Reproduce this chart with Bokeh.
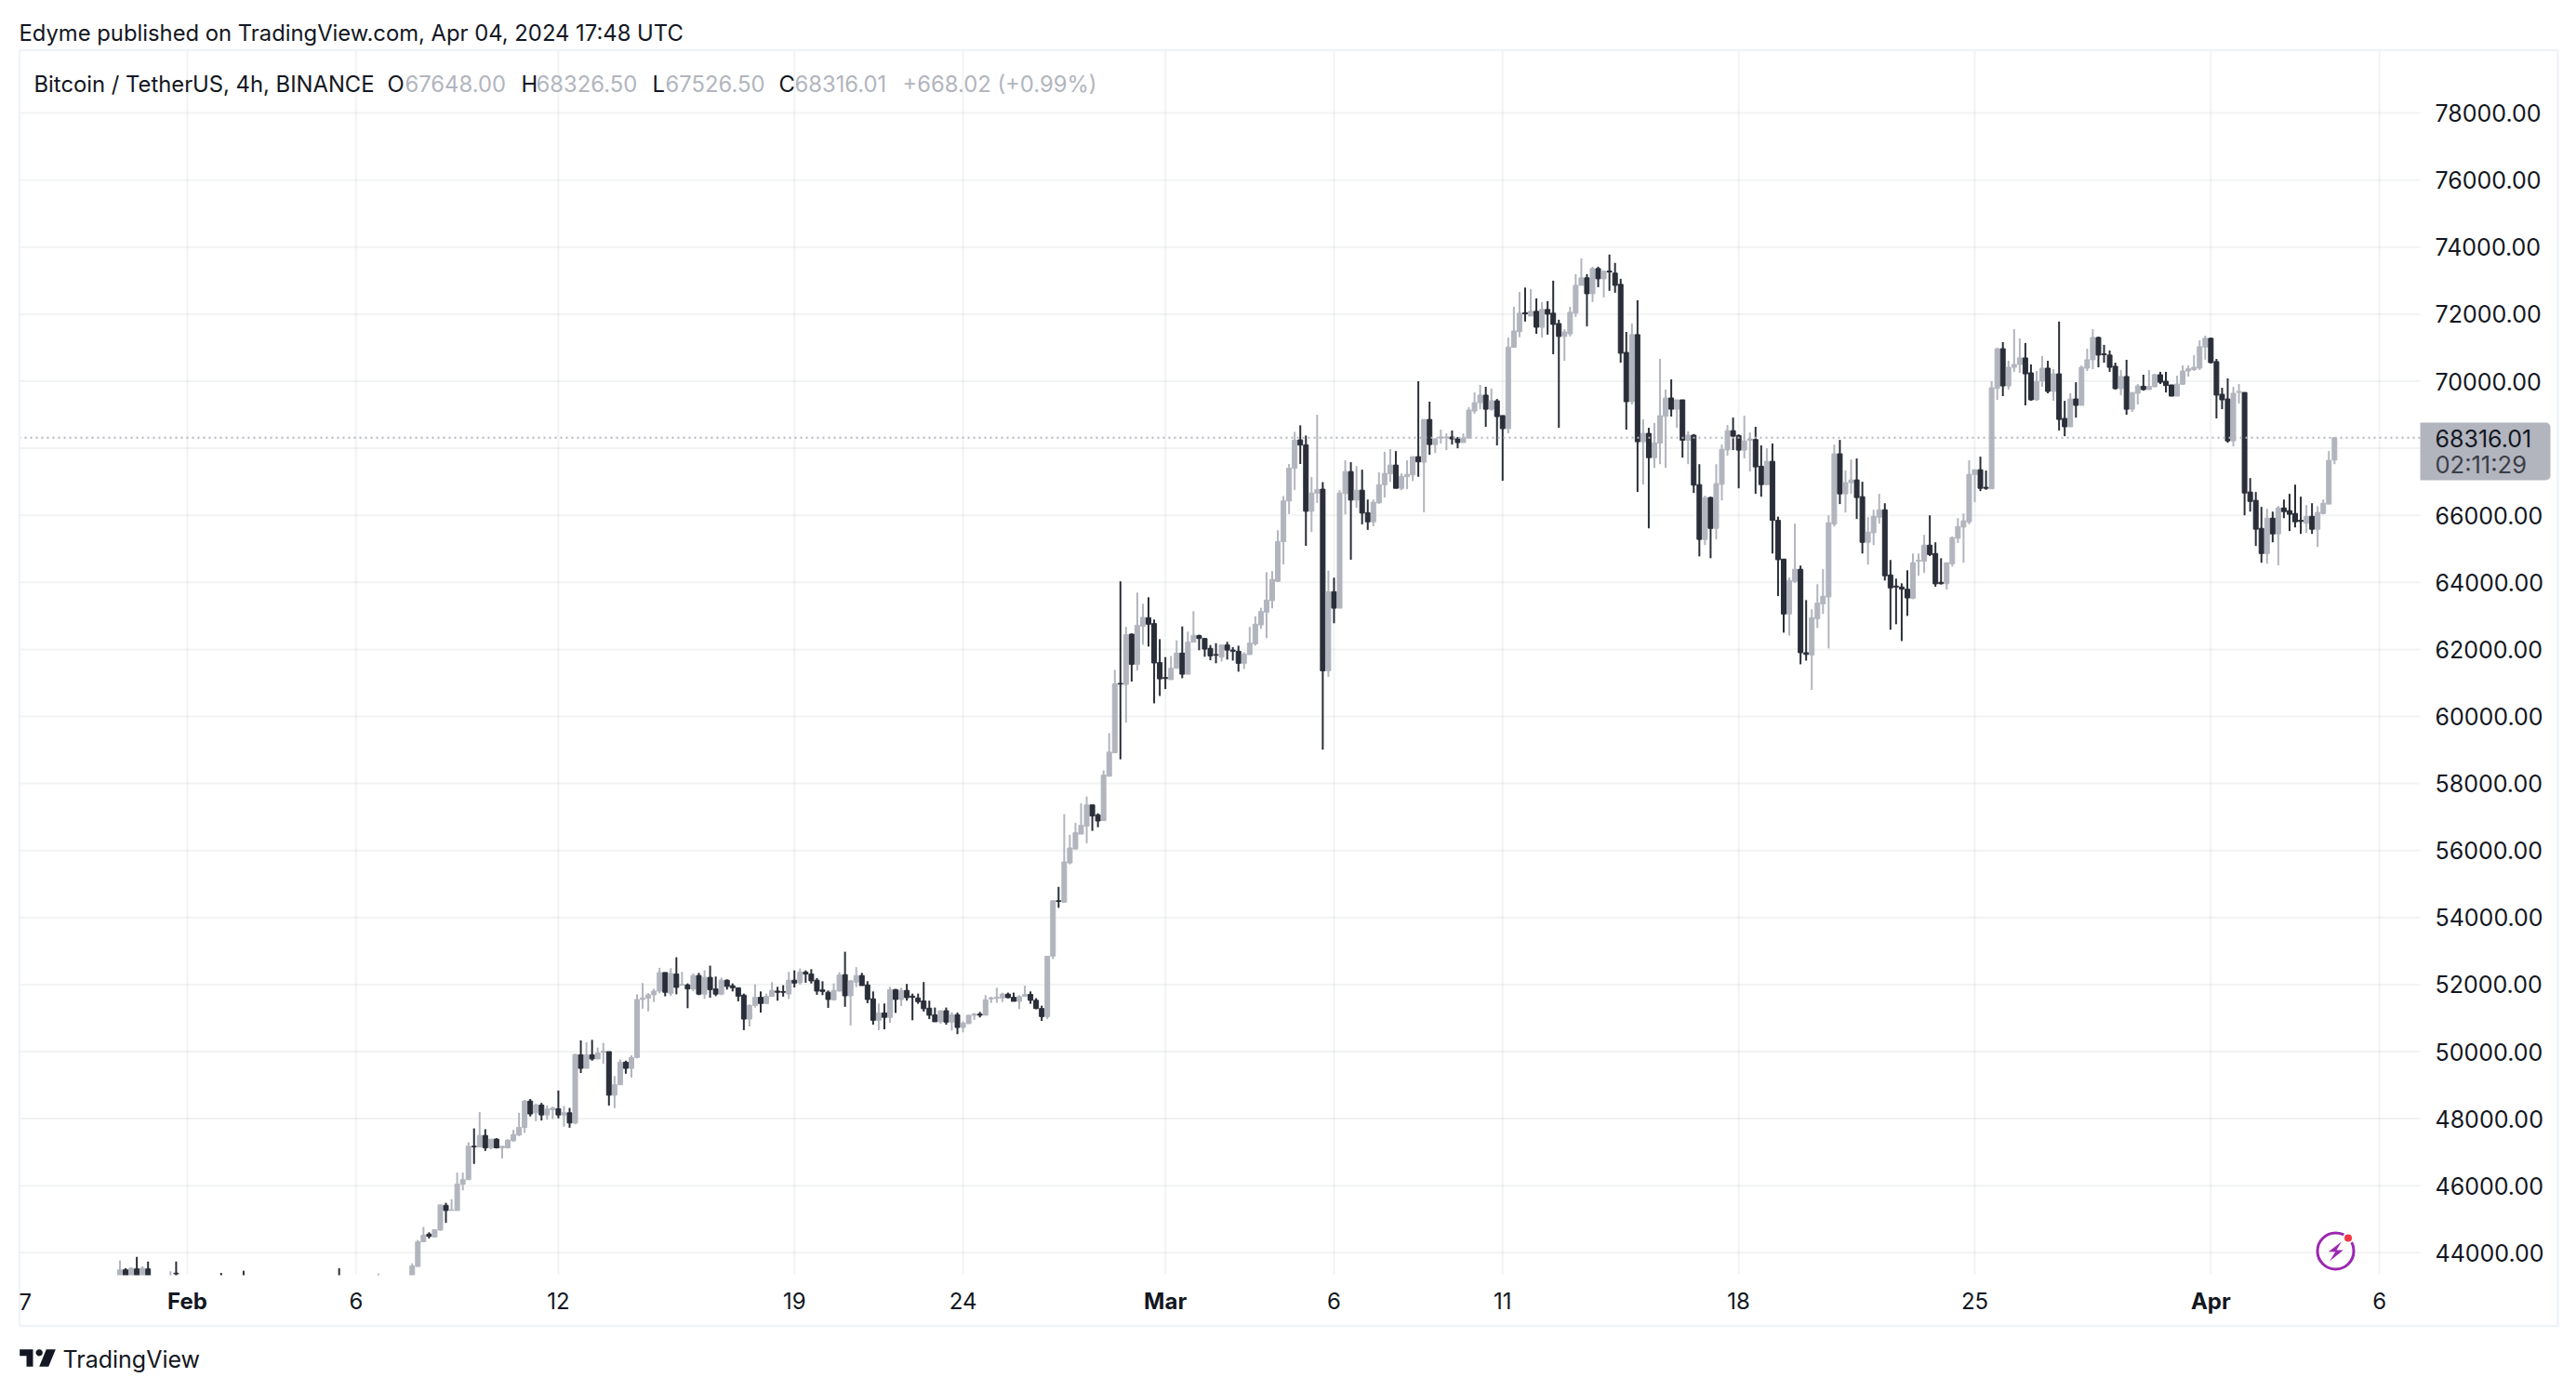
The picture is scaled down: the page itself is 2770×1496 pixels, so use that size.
from bokeh.plotting import figure
from bokeh.models import ColumnDataSource, FixedTicker, Label, BoxAnnotation, PolyAnnotation, NumeralTickFormatter
from bokeh.embed import file_html
from bokeh.resources import INLINE
import numpy as np

# ---------- data: BTC/USDT 4h bars, bar number 0 = Feb 1 00:00 ----------
early_bars = [-12, -11, -10, -9, -8, -7, -3, -2, 6, 10, 27, 34]
early_opens = [43200, 43490, 43300, 43518, 43250, 43518, 43100, 43390, 43300, 43300, 43300, 43200]
early_highs = [43770, 43537, 43560, 43880, 43590, 43740, 43444, 43740, 43400, 43463, 43537, 43380]
early_lows = [43100, 43200, 43200, 43100, 43200, 43150, 43000, 43000, 43100, 43100, 43100, 43100]
early_closes = [43490, 43300, 43537, 43250, 43537, 43200, 43300, 43370, 43200, 43200, 43200, 43300]

opens = [
 43100,43590,44330,44555,44470,44675,45415,45260,45260,46045,
 46180,47175,47155,47500,47130,47390,47130,47130,47340,47510,
 47740,48525,48175,48405,48110,48270,48295,48110,48175,47870,
 49905,49500,49905,49780,49980,50000,48700,49010,49685,49500,
 49825,51555,51600,51695,51805,52360,51740,52315,51990,51990,
 51870,52270,51715,52215,51870,51715,52130,51965,51905,51685,
 50970,51380,51620,51435,51650,51805,51790,51720,52130,52055,
 52370,52315,52130,51840,51770,51545,51805,52295,51665,52075,
 52270,51990,51575,50935,51155,51020,51850,51555,51825,51655,
 51600,51510,51295,51095,50890,51220,50880,51100,50720,50835,
 51085,51120,51085,51575,51590,51600,51715,51620,51500,51650,
 51705,51530,51285,51045,52850,54500,54455,55630,56045,56490,
 56730,57360,57065,56890,58215,58915,60985,60955,62455,61555,
 62695,62945,62770,61605,61160,61095,61435,61890,61260,62215,
 62410,62325,62030,61845,61770,62130,61980,61945,61585,61845,
 62165,62730,63110,63455,64030,65215,66425,67400,68250,68100,
 66120,66660,66780,61360,63720,63230,66650,67305,66455,66750,
 66075,65805,66370,66910,67240,67500,66805,67155,67205,67750,
 67585,68860,68110,68305,68315,68335,68280,68170,68305,69110,
 69360,69585,69165,69415,68975,68585,71010,71480,72045,71945,
 72085,71610,72140,72030,71720,71335,71415,72030,72860,73085,
 72610,73360,73055,73285,73225,72890,70860,69390,71390,68195,
 68445,67720,68150,68955,69500,69165,69445,68240,68390,66915,
 65280,66530,65610,66925,67950,68525,68380,67945,68240,68260,
 67465,66915,67610,65850,64695,63055,64030,64390,61900,61835,
 62915,63360,63565,65740,67835,66640,66975,67055,66555,65195,
 65480,65945,66165,64220,63890,63860,63795,63520,64630,64630,
 65110,64860,64000,63960,64555,65315,65650,65805,67220,67360,
 66835,66790,69785,70970,69860,70415,70500,70695,70250,69445,
 70000,70390,69695,70220,68890,68640,69470,69280,70390,70640,
 71305,70815,70780,70445,69780,70140,69165,69640,69850,69750,
 69835,70195,70000,69890,69555,69910,70305,70350,70390,71020,
 71280,70585,69610,69470,68220,69665,69665,66695,66445,65610,
 64860,65915,65445,66220,66140,66055,65850,65760,65970,65585,
 66055,66335,67648]
highs = [
 43685,44380,44770,44610,44700,45440,45490,45600,46390,46390,
 47295,47710,48195,47685,47390,47415,47175,47385,47665,48175,
 48560,48585,48450,48470,48390,48360,48840,48380,48320,49935,
 50335,50280,50350,50120,50260,50000,49270,49770,49730,49890,
 51710,52045,51745,51880,52500,52360,52490,52815,52380,52035,
 52335,52350,52425,52565,52240,52210,52155,52035,51905,51730,
 51410,52010,51795,51730,52075,51935,51980,52380,52425,52480,
 52425,52460,52195,52100,51825,52035,52370,52980,52130,52520,
 52350,52100,51795,51435,51435,51935,51870,51905,52020,51730,
 51730,52075,51520,51315,51220,51315,51175,51165,50905,51095,
 51155,51185,51685,51640,51905,51760,51760,51760,51685,51965,
 51795,51595,51370,52845,54520,54915,57085,56470,56825,57410,
 57610,57360,57110,58390,59500,61390,64030,62670,62475,63695,
 63360,63555,62890,62305,61770,61805,62270,62685,62530,63140,
 62440,62325,62130,62185,62130,62225,62065,62110,61915,62670,
 62990,63240,64305,64335,65555,66575,67530,68490,68685,68380,
 67140,69000,66990,64350,64140,66750,67640,67585,67470,67360,
 66470,66470,67280,67890,67975,67915,67250,67640,67750,70000,
 68860,69390,68310,68555,68445,68530,68335,68445,69225,69665,
 69890,69835,69780,69470,68975,71305,72220,72665,72795,72750,
 72470,72360,72390,73000,71835,71555,72220,73195,73665,73195,
 73415,73415,73305,73780,73530,73055,71470,71720,72415,68860,
 68610,68750,70665,69750,70055,69445,69445,68500,68425,67525,
 66585,66555,67525,68110,68695,68915,68415,68970,68470,68640,
 68085,68000,68140,65960,64695,64140,65750,64500,63470,63195,
 63945,64390,66000,68110,68250,67335,67665,67695,67000,65945,
 66165,66640,66360,64665,64110,63970,64360,64860,64860,65415,
 66000,65195,64720,64585,65370,65915,66055,67640,67360,67750,
 67335,70000,71000,71165,70610,71555,71280,71140,70500,70305,
 70750,70610,70360,71780,69415,69640,69970,70470,70970,71555,
 71330,71085,70915,70555,70335,70640,69665,69915,70195,70335,
 70220,70280,70280,69890,70165,70470,70470,70780,71220,71360,
 71305,70665,69805,70085,69835,69915,69665,67110,66695,66250,
 66195,66110,66275,66470,66640,66915,66555,66305,66360,66275,
 66470,67915,68326.5]
lows = [
 43000,43590,44315,44425,44470,44655,44890,45260,45260,45860,
 46180,46650,47155,47035,47085,47110,46815,47110,47310,47480,
 47575,48065,47925,47945,47970,47990,48010,47760,47730,47835,
 49360,49500,49730,49780,49640,48390,48315,49010,49340,49230,
 49800,51280,51200,51480,51740,51650,51665,51710,51965,51295,
 51795,51685,51575,51610,51655,51685,51850,51795,51500,50640,
 50750,51315,51165,51435,51650,51520,51640,51575,51915,52000,
 52055,52030,51695,51685,51305,51525,51795,51335,50780,51925,
 51970,51445,50805,50640,50665,50860,51155,51360,51520,50935,
 51425,51195,50970,50890,50835,50805,50630,50520,50575,50835,
 50945,51020,51085,51455,51455,51480,51590,51545,51270,51640,
 51425,51265,50915,50970,52760,54290,54455,55585,56030,56490,
 56220,56585,56695,56890,58215,58915,58720,59815,61040,61370,
 62140,62085,60390,60610,60815,61095,61435,61140,61260,62215,
 61975,61780,61675,61585,61640,61695,61665,61335,61415,61845,
 62110,62610,62335,63225,64010,64535,66035,66760,67530,65090,
 65500,66370,59010,61175,62780,63230,66030,64675,66225,65730,
 65565,65675,66345,66530,67000,66805,66750,66780,67020,67150,
 66090,67805,67860,68140,67945,68110,68000,68170,68280,69030,
 69165,68640,69120,68085,67030,68445,71000,71315,71780,71945,
 71415,71305,71390,70805,68610,70610,71335,71915,72860,71640,
 72360,72805,72500,72695,72640,70555,68555,69305,66695,66915,
 65610,67415,67525,67415,68945,68610,67720,67525,66665,64775,
 65110,64720,65280,66445,67775,67945,66805,67695,67305,66640,
 66555,66915,64860,63590,62500,62415,63980,61555,61665,60790,
 62640,63055,62030,65665,66335,66085,66640,65890,64860,64530,
 65110,65750,64055,62585,62750,62250,63000,63500,64195,64280,
 64785,63870,63935,63785,64470,65175,64585,65730,66390,66720,
 66760,66790,69445,69555,69750,70280,70250,69280,69415,69415,
 69835,69640,69415,68530,68360,68640,68915,69280,70305,70360,
 70415,70555,70280,69750,69585,69000,69085,69305,69720,69750,
 69820,69915,69665,69555,69555,69890,70140,70305,70335,70640,
 70530,68890,69165,68165,68055,69335,66000,66110,65085,64585,
 64555,65195,64510,65915,65530,65640,65445,65470,65445,65055,
 66030,66335,67526.5]
closes = [
 43610,44330,44520,44490,44685,45425,45260,45280,46045,46180,
 47175,47160,47500,47130,47390,47130,47175,47360,47525,47740,
 48525,48140,48405,48110,48285,48315,48110,48175,47870,49915,
 49500,49905,49780,49960,50010,48700,49010,49685,49500,49825,
 51555,51600,51695,51805,52360,51770,52330,51915,52000,51870,
 52270,51715,52215,51850,51715,52130,51945,51905,51655,50970,
 51380,51620,51435,51650,51825,51770,51770,52130,52045,52370,
 52315,52110,51805,51795,51555,51825,52285,51665,52110,52270,
 51970,51555,50935,51155,51020,51850,51555,51825,51610,51620,
 51490,51280,51085,50890,51220,50880,51100,50720,50850,51085,
 51120,51085,51545,51600,51620,51715,51610,51500,51640,51705,
 51530,51285,51045,52845,54500,54480,55660,56075,56530,56750,
 57360,57030,56880,58250,58935,60970,60965,62435,61555,62715,
 62955,62750,61595,61120,61130,61435,61890,61260,62215,62420,
 62325,62010,61805,61825,62130,61980,61945,61585,61860,62185,
 62750,63130,63470,64085,65215,66435,67405,68240,68095,66120,
 66665,66770,61360,63720,63230,66665,67305,66455,66750,66065,
 65805,66390,66910,67250,67500,66805,67165,67220,67750,67595,
 68860,68110,68270,68335,68335,68280,68170,68305,69140,69360,
 69585,69165,69415,68945,68585,71020,71500,72030,72010,72085,
 71610,72140,72000,71695,71335,71470,72055,72860,73085,72610,
 73360,73055,73280,73260,72860,70835,69390,71390,68195,68445,
 67720,68165,68970,69500,69165,69445,68240,68390,66900,65280,
 66530,65610,66945,67970,68525,68360,67945,68220,68280,67445,
 66915,67610,65850,64675,63055,64055,64390,61900,61850,62945,
 63380,63585,65780,67835,66640,66975,67055,66530,65195,65500,
 65970,66165,64195,63835,63860,63795,63535,64585,64655,65110,
 64830,63955,63960,64585,65335,65665,65835,67220,67360,66805,
 66805,69805,70970,69860,70415,70500,70695,70220,69445,70000,
 70390,69695,70220,68860,68640,69470,69280,70415,70640,71305,
 70780,70790,70415,69780,70140,69165,69665,69860,69750,69850,
 70195,69970,69870,69555,69915,70305,70370,70415,71030,71280,
 70555,69585,69445,68220,69640,69695,66665,66415,65585,64860,
 65915,65445,66220,66110,66030,65805,65815,65970,65585,66085,
 66360,67640,68316.01]

bars = early_bars + list(range(40, 383))
o = early_opens + opens
h = early_highs + highs
l = early_lows + lows
c = early_closes + closes

price_ticks = list(range(44000, 80000, 2000))
time_ticks = [0, 30, 66, 108, 138, 174, 204, 234, 276, 318, 360, 390]
time_labels = {30: "6", 66: "12", 108: "19", 138: "24", 204: "6", 234: "11", 276: "18", 318: "25", 390: "6",
               0: " ", 174: " ", 360: " "}
month_ticks = {0: "Feb", 174: "Mar", 360: "Apr"}
last_price = 68316.01

# ---------- colours ----------
UP = "#b2b5be"
DOWN = "#2a2e39"
INK = "#131722"

# page pixel -> data helpers (for the furniture outside the data)
def X(px):
    return (px - 201.0) / 6.044
def Y(py):
    return 70000.0 - (py - 409.5) / 0.03605

W, H = 2762, 1488
p = figure(width=W, height=H, output_backend="svg", toolbar_location=None,
           x_range=(X(0), X(W)), y_range=(Y(H), Y(0)),
           y_axis_location="right", min_border=0,
           background_fill_color="white", border_fill_color="white")
p.outline_line_color = None
p.grid.visible = False

# grid of the pane only
p.segment(x0=[X(20)] * len(price_ticks), x1=[X(2602)] * len(price_ticks),
          y0=price_ticks, y1=price_ticks, line_color="#2a2e39", line_alpha=0.06, line_width=2)
p.segment(x0=time_ticks, x1=time_ticks,
          y0=[Y(1370)] * len(time_ticks), y1=[Y(53)] * len(time_ticks),
          line_color="#2a2e39", line_alpha=0.06, line_width=2)

src = ColumnDataSource(dict(x=bars, o=o, h=h, l=l, c=c,
                            color=[UP if cc >= oo else DOWN for oo, cc in zip(o, c)]))
p.segment("x", "h", "x", "l", source=src, line_color="color", line_width=2)
p.vbar("x", width=5.0 / 6.044, top="o", bottom="c", source=src,
       fill_color="color", line_color="color", line_width=1)

# the pane ends at the time axis: bars below it are hidden
p.quad(left=X(20), right=X(2602), top=Y(1371), bottom=Y(1424), fill_color="white", line_alpha=0)

# last price line
p.line([X(20), X(2602)], [last_price, last_price], line_color=UP, line_width=2, line_dash="2 4")

# outer frame
p.quad(left=X(20.5), right=X(2750), top=Y(53.5), bottom=Y(1425.5),
       fill_alpha=0, line_color="#f0f3fa", line_width=2.5)

# axes
ax = p.yaxis[0]
ax.fixed_location = X(2602)
ax.ticker = FixedTicker(ticks=price_ticks)
ax.formatter = NumeralTickFormatter(format="0.00")
ax.axis_line_color = None
ax.major_tick_line_color = None
ax.minor_tick_line_color = None
ax.major_tick_out = 0
ax.major_label_standoff = 16
ax.major_label_text_font = "Inter"
ax.major_label_text_font_size = "25px"
ax.major_label_text_color = INK

bx = p.xaxis[0]
bx.fixed_location = Y(1370)
bx.ticker = FixedTicker(ticks=time_ticks)
bx.major_label_overrides = time_labels
bx.axis_line_color = None
bx.major_tick_line_color = None
bx.minor_tick_line_color = None
bx.major_tick_out = 0
bx.major_label_standoff = 14
bx.major_label_text_font = "Inter"
bx.major_label_text_font_size = "24px"
bx.major_label_text_color = INK

def text(s, px, py, color=INK, size="23.8px", style="normal", align="left"):
    p.add_layout(Label(x=X(px), y=Y(py), text=s, text_color=color, text_font="Inter",
                       text_font_size=size, text_font_style=style, text_align=align,
                       text_baseline="middle"))

# last price tag
p.add_layout(BoxAnnotation(left=X(2602), right=X(2742), top=Y(454), bottom=Y(516),
                           fill_color=UP, fill_alpha=1, line_alpha=0,
                           border_radius=(0, 5, 5, 0)))
text(f"{last_price:.2f}", 2618, 471, size="25px")
text("02:11:29", 2618, 499, color="#3b3e47", size="25.5px")

# month labels and clipped first label
for k, s in month_ticks.items():
    p.add_layout(Label(x=k, y=Y(1399), text=s, text_color=INK, text_font="Inter",
                       text_font_size="24px", text_font_style="bold",
                       text_align="center", text_baseline="middle"))
text("7", 20, 1399, size="24px")

# header
text("Edyme published on TradingView.com, Apr 04, 2024 17:48 UTC", 20, 35)
text("Bitcoin / TetherUS, 4h, BINANCE", 36, 89.5)
text("O", 416, 89.5)
text("67648.00", 435, 89.5, color=UP)
text("H", 560, 89.5)
text("68326.50", 576, 89.5, color=UP)
text("L", 701, 89.5)
text("67526.50", 715, 89.5, color=UP)
text("C", 837, 89.5)
text("68316.01", 854, 89.5, color=UP)
text("+668.02 (+0.99%)", 970, 89.5, color=UP)

# TradingView logo
text("TradingView", 67, 1461, size="25px")
def poly(pts, color):
    p.add_layout(PolyAnnotation(xs=[X(a) for a, _ in pts], ys=[Y(b) for _, b in pts],
                                fill_color=color, fill_alpha=1, line_alpha=0))
poly([(20.7, 1450.7), (35, 1450.7), (35, 1469.3), (28, 1469.3), (28, 1457.7), (20.7, 1457.7)], INK)
t = np.linspace(0, 2 * np.pi, 24)
poly(list(zip(41.7 + 3.6 * np.cos(t), 1454.3 + 3.6 * np.sin(t))), INK)
poly([(49.3, 1450.7), (59.3, 1450.7), (51.7, 1469.3), (41.7, 1469.3)], INK)

# alert badge
p.scatter([X(2511)], [Y(1345)], marker="circle", size=39, fill_alpha=0, line_color="#9c27b0", line_width=3)
poly([(2517.3, 1335), (2503.3, 1345.7), (2510.7, 1345.7), (2504.7, 1355.7), (2519.3, 1344), (2512, 1344)], "#9c27b0")
p.scatter([X(2524.5)], [Y(1331)], marker="circle", size=10, fill_color="#f23645",
          line_color="white", line_width=2)

open("out.html", "w").write(file_html(p, INLINE))
